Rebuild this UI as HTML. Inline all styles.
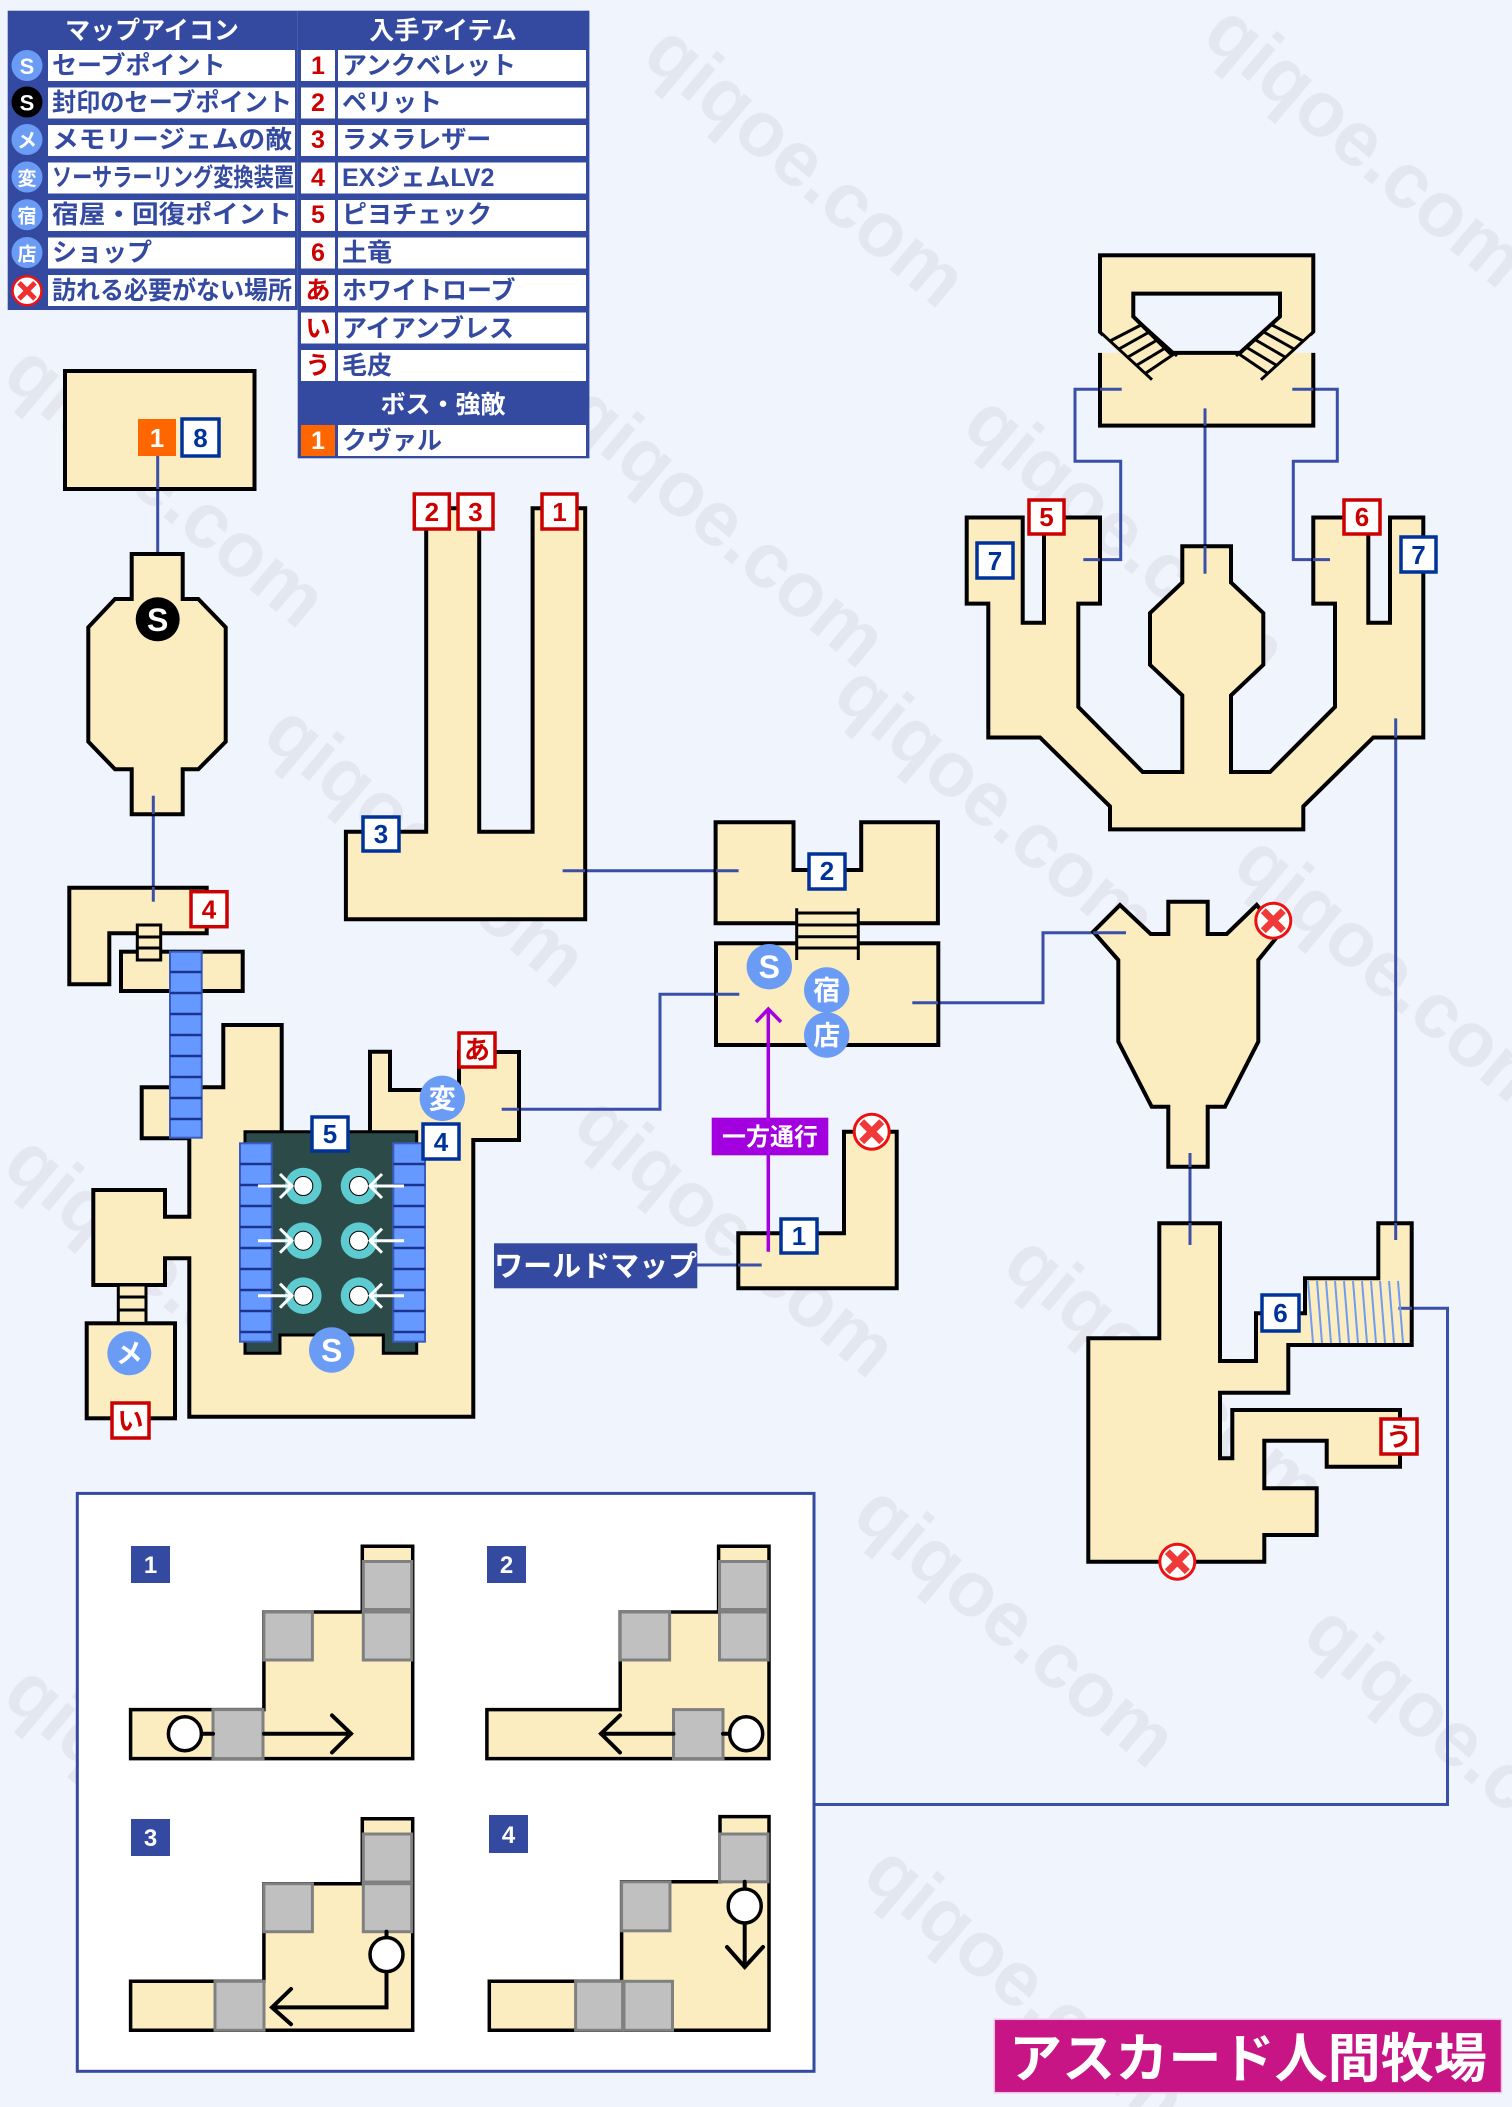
<!DOCTYPE html>
<html><head><meta charset="utf-8"><style>
html,body{margin:0;padding:0;background:#eff4fd;}
svg{display:block;}
text{font-family:"Liberation Sans","Noto Sans CJK JP",sans-serif;font-weight:bold;}
</style></head><body>
<svg width="1512" height="2107" viewBox="0 0 1512 2107" xmlns="http://www.w3.org/2000/svg">
<rect width="1512" height="2107" fill="#eff4fd"/>
<!-- watermarks -->
<g fill="#e3e5ef" font-size="78" opacity="0.9">
<text transform="translate(640,60) rotate(40)">qiqoe.com</text>
<text transform="translate(1200,40) rotate(40)">qiqoe.com</text>
<text transform="translate(0,380) rotate(40)">qiqoe.com</text>
<text transform="translate(560,420) rotate(40)">qiqoe.com</text>
<text transform="translate(960,430) rotate(40)">qiqoe.com</text>
<text transform="translate(260,740) rotate(40)">qiqoe.com</text>
<text transform="translate(830,700) rotate(40)">qiqoe.com</text>
<text transform="translate(1230,870) rotate(40)">qiqoe.com</text>
<text transform="translate(0,1170) rotate(40)">qiqoe.com</text>
<text transform="translate(570,1130) rotate(40)">qiqoe.com</text>
<text transform="translate(1000,1270) rotate(40)">qiqoe.com</text>
<text transform="translate(850,1520) rotate(40)">qiqoe.com</text>
<text transform="translate(1300,1640) rotate(40)">qiqoe.com</text>
<text transform="translate(0,1700) rotate(40)">qiqoe.com</text>
<text transform="translate(860,1880) rotate(40)">qiqoe.com</text>
</g>

<!-- LEGEND -->
<g>
<rect x="7.7" y="10.7" width="290" height="299.3" fill="#334aa0"/>
<rect x="297.7" y="10.7" width="291.7" height="447.6" fill="#334aa0"/>
<text x="152" y="39" font-size="25" fill="#fff" text-anchor="middle">マップアイコン</text>
<text x="443" y="39" font-size="25" fill="#fff" text-anchor="middle">入手アイテム</text>
<text x="443" y="413" font-size="25" fill="#fff" text-anchor="middle">ボス・強敵</text>
<g fill="#fff">
<rect x="48" y="50" width="247" height="31"/><rect x="48" y="87.5" width="247" height="31"/><rect x="48" y="125" width="247" height="31"/><rect x="48" y="162.5" width="247" height="31"/><rect x="48" y="200" width="247" height="31"/><rect x="48" y="237.5" width="247" height="31"/><rect x="48" y="275" width="247" height="31"/>
<rect x="301" y="50" width="34" height="31"/><rect x="301" y="87.5" width="34" height="31"/><rect x="301" y="125" width="34" height="31"/><rect x="301" y="162.5" width="34" height="31"/><rect x="301" y="200" width="34" height="31"/><rect x="301" y="237.5" width="34" height="31"/><rect x="301" y="275" width="34" height="31"/><rect x="301" y="312.5" width="34" height="31"/><rect x="301" y="350" width="34" height="31"/>
<rect x="338" y="50" width="248" height="31"/><rect x="338" y="87.5" width="248" height="31"/><rect x="338" y="125" width="248" height="31"/><rect x="338" y="162.5" width="248" height="31"/><rect x="338" y="200" width="248" height="31"/><rect x="338" y="237.5" width="248" height="31"/><rect x="338" y="275" width="248" height="31"/><rect x="338" y="312.5" width="248" height="31"/><rect x="338" y="350" width="248" height="31"/>
<rect x="338" y="425" width="248" height="31"/>
</g>
<rect x="301" y="425" width="34" height="31" fill="#ff6600"/>
<!-- icons -->
<circle cx="27" cy="65.5" r="15.5" fill="#6b9cf5"/><text x="27" y="74" font-size="22" fill="#fff" text-anchor="middle">S</text>
<circle cx="27" cy="102" r="15.5" fill="#000"/><text x="27" y="110.5" font-size="22" fill="#fff" text-anchor="middle">S</text>
<circle cx="27" cy="139.5" r="15.5" fill="#6b9cf5"/><text x="27" y="147.5" font-size="20" fill="#fff" text-anchor="middle">メ</text>
<circle cx="27" cy="177" r="15.5" fill="#6b9cf5"/><text x="27" y="185" font-size="19" fill="#fff" text-anchor="middle">変</text>
<circle cx="27" cy="214.7" r="15.5" fill="#6b9cf5"/><text x="27" y="222.5" font-size="19" fill="#fff" text-anchor="middle">宿</text>
<circle cx="27" cy="252.5" r="15.5" fill="#6b9cf5"/><text x="27" y="260.5" font-size="19" fill="#fff" text-anchor="middle">店</text>
<circle cx="27" cy="290.8" r="14.5" fill="#fff" stroke="#ee1111" stroke-width="2.5"/><path d="M19 282.8 L35 298.8 M35 282.8 L19 298.8" stroke="#f03030" stroke-width="5"/>
<g font-size="25" fill="#334aa0">
<text x="52" y="74">セーブポイント</text>
<text x="52" y="111" textLength="240" lengthAdjust="spacingAndGlyphs">封印のセーブポイント</text>
<text x="52" y="148" textLength="240" lengthAdjust="spacingAndGlyphs">メモリージェムの敵</text>
<text x="52" y="186" textLength="242" lengthAdjust="spacingAndGlyphs">ソーサラーリング変換装置</text>
<text x="52" y="223" textLength="240" lengthAdjust="spacingAndGlyphs">宿屋・回復ポイント</text>
<text x="52" y="261">ショップ</text>
<text x="52" y="299" textLength="240" lengthAdjust="spacingAndGlyphs">訪れる必要がない場所</text>
<text x="342" y="74">アンクベレット</text>
<text x="342" y="111">ペリット</text>
<text x="342" y="148">ラメラレザー</text>
<text x="342" y="186">EXジェムLV2</text>
<text x="342" y="223">ピヨチェック</text>
<text x="342" y="261">土竜</text>
<text x="342" y="299">ホワイトローブ</text>
<text x="342" y="337">アイアンブレス</text>
<text x="342" y="374">毛皮</text>
<text x="342" y="449">クヴァル</text>
</g>
<g font-size="25" fill="#cc0000" text-anchor="middle">
<text x="318" y="74">1</text><text x="318" y="111">2</text><text x="318" y="148">3</text><text x="318" y="186">4</text><text x="318" y="223">5</text><text x="318" y="261">6</text><text x="318" y="299">あ</text><text x="318" y="337">い</text><text x="318" y="374">う</text>
</g>
<text x="318" y="449" font-size="25" fill="#fff" text-anchor="middle">1</text>
</g>

<!-- CONNECTOR LINES -->
<g stroke="#3a4fa8" stroke-width="3" fill="none">
<path d="M157.7 489 V573"/>
<path d="M153.3 795.7 V901.7"/>
<path d="M562.6 870.7 H738.6"/>
<path d="M739.3 994.3 H660 V1109.3 H501.7"/>
<path d="M912.3 1002.7 H1043 V932.7 H1126"/>
<path d="M697 1265 H761.7"/>
<path d="M1190 1153 V1245"/>
<path d="M1121.7 389.3 H1075 V461.2 H1120.7 V559.6 H1083.3"/>
<path d="M1292.3 389.3 H1337.3 V461.2 H1293.3 V559.6 H1330"/>
<path d="M1205 408.4 V573.7"/>
<path d="M1395.7 718.4 V1240"/>
<path d="M1398.3 1308.3 H1447.5 V1804.5 H814"/>
</g>

<g fill="#fcedc0" stroke="#000" stroke-width="4" stroke-linejoin="miter">
<!-- room 1 -->
<rect x="65" y="371" width="189.5" height="118"/>
<!-- octagon -->
<polygon points="131.7,554 182.7,554 182.7,599 198.3,599 225.7,627.3 225.7,741.7 198.3,769.3 182.7,769.3 182.7,814.3 131.7,814.3 131.7,769.3 115,769.3 88.3,741.7 88.3,627.3 115,599 131.7,599"/>
<!-- room 4 -->
<polygon points="69.3,887.7 206.7,887.7 206.7,933.3 109.3,933.3 109.3,984.3 69.3,984.3"/>
<rect x="121" y="951.7" width="121.7" height="39.3"/>
<!-- big left complex -->
<polygon points="223.3,1025 281.7,1025 281.7,1138.3 370,1138.3 370,1051.7 390,1051.7 390,1090 459,1090 459,1052 519,1052 519,1140 473.3,1140 473.3,1416.7 189.3,1416.7 189.3,1258.3 165,1258.3 165,1285 93.3,1285 93.3,1190 165,1190 165,1216.7 189.3,1216.7 189.3,1138.3 141.7,1138.3 141.7,1087.3 223.3,1087.3"/>
<rect x="86.7" y="1323.3" width="88.3" height="95"/>
<!-- U room -->
<polygon points="426.2,508.3 479.2,508.3 479.2,831.7 532.6,831.7 532.6,508.3 585.2,508.3 585.2,919.3 345.9,919.3 345.9,831.7 426.2,831.7"/>
<!-- center rooms -->
<polygon points="715.6,822.3 793.5,822.3 793.5,870 861.2,870 861.2,822.3 937.9,822.3 937.9,923.3 715.6,923.3"/>
<rect x="716" y="943.3" width="222.3" height="101.7"/>
<polygon points="738.3,1233.3 844,1233.3 844,1131.7 896.7,1131.7 896.7,1288.3 738.3,1288.3"/>
<!-- funnel -->
<polygon points="1093.3,931.7 1120,905 1150.7,934 1168.3,934 1168.3,901.7 1207.7,901.7 1207.7,934 1226.7,934 1256.7,905 1280,933.3 1258.3,960 1258.3,1041.7 1225,1106.7 1207.7,1106.7 1207.7,1166.7 1168.3,1166.7 1168.3,1106.7 1151.7,1106.7 1118.3,1041.7 1118.3,960"/>
<!-- bottom right complex -->
<polygon points="1088.3,1338.3 1159.3,1338.3 1159.3,1223.3 1220,1223.3 1220,1361 1256,1361 1256,1313.3 1305,1313.3 1305,1278.3 1378.3,1278.3 1378.3,1223.3 1411.7,1223.3 1411.7,1345 1288.3,1345 1288.3,1392.7 1220,1392.7 1220,1458.3 1232.3,1458.3 1232.3,1410 1400,1410 1400,1466.7 1326.7,1466.7 1326.7,1440.7 1264.3,1440.7 1264.3,1488.3 1316.7,1488.3 1316.7,1535 1264.3,1535 1264.3,1561.7 1088.3,1561.7"/>
<!-- top right building -->
<polygon points="966.7,517.5 1022.7,517.5 1022.7,622.7 1044,622.7 1044,517.5 1100,517.5 1100,603.6 1078.3,603.6 1078.3,706.9 1142.7,772 1182.3,772 1182.3,695.4 1150,664.8 1150,613.1 1182.3,582.5 1182.3,546.2 1231,546.2 1231,582.5 1263.3,613.1 1263.3,664.8 1231,695.4 1231,772 1270,772 1335,706.9 1335,603.6 1313.3,603.6 1313.3,517.5 1368.3,517.5 1368.3,622.7 1390,622.7 1390,517.5 1423.3,517.5 1423.3,737.5 1373.3,737.5 1303.3,806.4 1303.3,829.4 1110,829.4 1110,806.4 1040,737.5 988.3,737.5 988.3,603.6 966.7,603.6"/>
<rect x="1100" y="255.3" width="213.3" height="170.3"/>
</g>
<!-- top room hole and stairs -->
<polygon points="1133.3,293.6 1280,293.6 1280,316.5 1240,352.9 1170,352.9 1133.3,316.5" fill="#eff4fd" stroke="#000" stroke-width="4"/>
<polygon points="1097,331.8 1097,352.9 1119,352.9" fill="#eff4fd"/>
<polygon points="1316,331.8 1316,352.9 1294,352.9" fill="#eff4fd"/>
<g stroke="#000" stroke-width="3">
<path d="M1100 331.8 L1152 379.7 M1133.3 316.5 L1177 356"/>
<path d="M1313.3 331.8 L1261 379.7 M1280 316.5 L1236 356"/>
<path d="M1110 341 L1143 324 M1119 349 L1151 331 M1128 357 L1159 339 M1137 365 L1167 347 M1146 373 L1174 354"/>
<path d="M1303 341 L1270 324 M1294 349 L1262 331 M1285 357 L1254 339 M1276 365 L1246 347 M1267 373 L1239 354"/>
</g>
<!-- internal line stubs redraw over rooms -->
<g stroke="#3a4fa8" stroke-width="3" fill="none">
<path d="M157.7 440 V489"/><path d="M153.3 795.7 V814"/><path d="M153.3 887 V901.7"/>
<path d="M562.6 870.7 H585"/><path d="M716 870.7 H738.6"/><path d="M716 994.3 H739.3"/><path d="M501.7 1109.3 H519"/>
<path d="M912.3 1002.7 H938"/><path d="M1093.3 932.7 H1126"/><path d="M738 1265 H761.7"/>
<path d="M1190 1153 V1167 M1190 1223 V1245"/><path d="M1395.7 1223 V1240"/><path d="M1398.3 1308.3 H1412"/>
<path d="M1121.7 389.3 H1100 M1292.3 389.3 H1313.3 M1205 408.4 V425.6 M1205 546 V573.7 M1083.3 559.6 H1100 M1313 559.6 H1330 M1395.7 718.4 V737.5"/>
</g>
<!-- hatch in bottom right -->
<g stroke="#6f9cf0" stroke-width="2">
<path d="M1308 1281 L1313 1343 M1317 1281 L1322 1343 M1326 1281 L1331 1343 M1335 1281 L1340 1343 M1344 1281 L1349 1343 M1353 1281 L1358 1343 M1362 1281 L1367 1343 M1371 1281 L1376 1343 M1380 1281 L1385 1343 M1389 1281 L1394 1343 M1398 1281 L1403 1343"/>
</g>
<!-- ladders -->
<g stroke="#000" stroke-width="3" fill="#fcedc0">
<rect x="137.3" y="925" width="23.4" height="35"/>
<path d="M137.3 937 H160.7 M137.3 948 H160.7" fill="none"/>
<rect x="118.3" y="1285" width="27.7" height="38.3"/>
<path d="M118.3 1297 H146 M118.3 1310 H146" fill="none"/>
<rect x="796.7" y="910" width="61.6" height="48" stroke-width="0"/>
<path d="M796.7 908.3 V960 M858.3 908.3 V960 M796.7 913 H858.3 M796.7 925 H858.3 M796.7 936.7 H858.3 M796.7 948 H858.3" fill="none"/>
</g>
<!-- blue upper stairs -->
<rect x="170" y="951.7" width="31.7" height="186" fill="#6699ff" stroke="#3a5cc0" stroke-width="2"/>
<g stroke="#1a3490" stroke-width="2.5"><path d="M170 972 H201.7 M170 993 H201.7 M170 1014 H201.7 M170 1035 H201.7 M170 1056 H201.7 M170 1077 H201.7 M170 1098 H201.7 M170 1119 H201.7"/></g>
<!-- dark region -->
<polygon points="245,1131.7 416.7,1131.7 416.7,1353.3 383.3,1353.3 383.3,1335 280,1335 280,1353.3 245,1353.3" fill="#2b4a48" stroke="#000" stroke-width="3"/>
<rect x="240" y="1143.3" width="31.7" height="198.4" fill="#6699ff" stroke="#3a5cc0" stroke-width="2"/>
<rect x="393.3" y="1143.3" width="31.7" height="198.4" fill="#6699ff" stroke="#3a5cc0" stroke-width="2"/>
<g stroke="#1a3490" stroke-width="2.5"><path d="M240 1164 H271.7 M240 1185 H271.7 M240 1206 H271.7 M240 1227 H271.7 M240 1248 H271.7 M240 1269 H271.7 M240 1290 H271.7 M240 1311 H271.7 M240 1332 H271.7 M393.3 1164 H425 M393.3 1185 H425 M393.3 1206 H425 M393.3 1227 H425 M393.3 1248 H425 M393.3 1269 H425 M393.3 1290 H425 M393.3 1311 H425 M393.3 1332 H425"/></g>
<g fill="#5ecbd0"><circle cx="303.3" cy="1186" r="18.3"/><circle cx="359" cy="1186" r="18.3"/><circle cx="303.3" cy="1240.7" r="18.3"/><circle cx="359" cy="1240.7" r="18.3"/><circle cx="303.3" cy="1295.7" r="18.3"/><circle cx="359" cy="1295.7" r="18.3"/></g>
<g fill="#fff" stroke="#000" stroke-width="1"><circle cx="303.3" cy="1186" r="9.5"/><circle cx="359" cy="1186" r="9.5"/><circle cx="303.3" cy="1240.7" r="9.5"/><circle cx="359" cy="1240.7" r="9.5"/><circle cx="303.3" cy="1295.7" r="9.5"/><circle cx="359" cy="1295.7" r="9.5"/></g>
<g stroke="#fff" stroke-width="3" fill="none">
<path d="M258 1186 H292 M280 1174 L292 1186 L280 1198"/><path d="M258 1240.7 H292 M280 1228.7 L292 1240.7 L280 1252.7"/><path d="M258 1295.7 H292 M280 1283.7 L292 1295.7 L280 1307.7"/>
<path d="M404 1186 H370 M382 1174 L370 1186 L382 1198"/><path d="M404 1240.7 H370 M382 1228.7 L370 1240.7 L382 1252.7"/><path d="M404 1295.7 H370 M382 1283.7 L370 1295.7 L382 1307.7"/>
</g>
<!-- one-way arrow -->
<g stroke="#a300e0" stroke-width="3.5" fill="none"><path d="M768.3 1251.7 V1010 M756 1022 L768.3 1009 L781 1022"/></g>
<rect x="711.7" y="1117.7" width="116.6" height="37.6" fill="#a300e0"/>
<text x="770" y="1145" font-size="24" fill="#fff" text-anchor="middle">一方通行</text>
<rect x="494" y="1243.3" width="203.3" height="45" fill="#334aa0"/>
<text x="595.6" y="1276" font-size="29" fill="#fff" text-anchor="middle">ワールドマップ</text>

<!-- ICON CIRCLES -->
<g fill="#6b9cf5">
<circle cx="769.3" cy="966.7" r="22.7"/><circle cx="826.7" cy="990" r="22.7"/><circle cx="826.7" cy="1035" r="22.7"/>
<circle cx="442.3" cy="1098.3" r="22.7"/><circle cx="331.7" cy="1350" r="22.7"/><circle cx="129.3" cy="1353.3" r="22"/>
</g>
<circle cx="157.7" cy="619.3" r="22" fill="#000"/>
<g fill="#fff" text-anchor="middle">
<text x="769.3" y="978" font-size="32">S</text><text x="331.7" y="1361.5" font-size="32">S</text><text x="157.7" y="631" font-size="32">S</text>
<text x="826.7" y="1000" font-size="27">宿</text><text x="826.7" y="1045" font-size="27">店</text><text x="442.3" y="1108.5" font-size="27">変</text><text x="129.3" y="1363" font-size="27">メ</text>
</g>
<!-- X icons -->
<g>
<circle cx="871.7" cy="1131.7" r="17.5" fill="#fff" stroke="#ee1111" stroke-width="3"/><path d="M861.7 1121.7 L881.7 1141.7 M881.7 1121.7 L861.7 1141.7" stroke="#f03a3a" stroke-width="7"/>
<circle cx="1273.3" cy="920.7" r="17.5" fill="#fff" stroke="#ee1111" stroke-width="3"/><path d="M1263.3 910.7 L1283.3 930.7 M1283.3 910.7 L1263.3 930.7" stroke="#f03a3a" stroke-width="7"/>
<circle cx="1177.3" cy="1561.7" r="17.5" fill="#fff" stroke="#ee1111" stroke-width="3"/><path d="M1167.3 1551.7 L1187.3 1571.7 M1187.3 1551.7 L1167.3 1571.7" stroke="#f03a3a" stroke-width="7"/>
</g>

<!-- BADGES -->
<g stroke-width="3.5" fill="#fff">
<g stroke="#cc0000">
<rect x="414.3" y="494" width="35" height="35"/><rect x="458" y="494" width="35" height="35"/><rect x="542" y="494" width="35" height="35"/>
<rect x="191" y="891.7" width="36" height="35"/><rect x="459" y="1033" width="36" height="34"/><rect x="112" y="1403" width="37" height="35"/>
<rect x="1029" y="500" width="35" height="34"/><rect x="1344" y="500" width="36" height="34"/><rect x="1381" y="1419" width="36" height="35"/>
</g>
<g stroke="#003399">
<rect x="182" y="419" width="37" height="37"/>
<rect x="363" y="817" width="36" height="34"/><rect x="809" y="854" width="36" height="35"/>
<rect x="312" y="1117" width="36" height="34"/><rect x="423" y="1124" width="36" height="35"/>
<rect x="781" y="1219" width="36" height="34"/><rect x="977" y="543" width="36" height="35"/><rect x="1401" y="537" width="35" height="35"/>
<rect x="1262" y="1295" width="37" height="36"/>
</g>
</g>
<rect x="138" y="419" width="38" height="37" fill="#ff6600"/>
<g font-size="26" text-anchor="middle" fill="#cc0000">
<text x="431.8" y="521">2</text><text x="475.5" y="521">3</text><text x="559.5" y="521">1</text>
<text x="209" y="918.5">4</text><text x="477" y="1059">あ</text><text x="130.5" y="1430">い</text>
<text x="1046.5" y="526">5</text><text x="1362" y="526">6</text><text x="1399" y="1446">う</text>
</g>
<g font-size="26" text-anchor="middle" fill="#003399">
<text x="200.5" y="447">8</text><text x="381" y="843">3</text><text x="827" y="880">2</text>
<text x="330" y="1143">5</text><text x="441" y="1151">4</text><text x="799" y="1245">1</text>
<text x="995" y="570">7</text><text x="1418.5" y="564">7</text><text x="1280.5" y="1322">6</text>
</g>
<text x="157" y="447" font-size="26" text-anchor="middle" fill="#fff">1</text>

<!-- BOTTOM PANEL -->
<rect x="77.3" y="1493.4" width="736.7" height="577.9" fill="#fff" stroke="#334aa0" stroke-width="3"/>
<g fill="#334aa0"><rect x="131" y="1546" width="39" height="37"/><rect x="487" y="1546" width="39" height="37"/><rect x="131" y="1819" width="39" height="37"/><rect x="489" y="1815" width="39" height="38"/></g>
<g font-size="24" fill="#fff" text-anchor="middle"><text x="150.5" y="1573">1</text><text x="506.5" y="1573">2</text><text x="150.5" y="1846">3</text><text x="508.5" y="1843">4</text></g>
<g fill="#fcedc0" stroke="#000" stroke-width="3.5">
<polygon points="362.3,1546.2 412.7,1546.2 412.7,1758.6 130.6,1758.6 130.6,1709.6 263.9,1709.6 263.9,1612 362.3,1612"/>
<polygon points="718.6,1546.2 769,1546.2 769,1758.6 486.9,1758.6 486.9,1709.6 620.2,1709.6 620.2,1612 718.6,1612"/>
<polygon points="362.3,1818.7 412.7,1818.7 412.7,2030.3 130.6,2030.3 130.6,1981.3 263.9,1981.3 263.9,1883.7 362.3,1883.7"/>
<polygon points="720,1816.6 769,1816.6 769,2030.3 489.3,2030.3 489.3,1981.3 621.6,1981.3 621.6,1881.8 720,1881.8"/>
</g>
<g fill="#c0c0c0" stroke="#808080" stroke-width="3">
<rect x="263.9" y="1612" width="48.5" height="48"/><rect x="363.3" y="1561.5" width="48.4" height="48"/><rect x="363.3" y="1612" width="48.4" height="48"/><rect x="213" y="1709.6" width="50" height="49"/>
<rect x="620.2" y="1612" width="49.4" height="48"/><rect x="719.5" y="1561.5" width="48.5" height="48"/><rect x="719.5" y="1612" width="48.5" height="48"/><rect x="673.5" y="1709.6" width="49.5" height="49"/>
<rect x="263.9" y="1883.7" width="48.5" height="48"/><rect x="363.3" y="1834" width="48.4" height="48"/><rect x="363.3" y="1883.7" width="48.4" height="48"/><rect x="215" y="1981.3" width="49" height="49"/>
<rect x="621.6" y="1881.8" width="48.4" height="49"/><rect x="719.5" y="1834" width="48.5" height="47.8"/><rect x="575.6" y="1981.3" width="47" height="49"/><rect x="624" y="1981.3" width="48.5" height="49"/>
</g>
<g stroke="#000" stroke-width="4" fill="none" stroke-linecap="round">
<path d="M202 1733.7 H213 M264 1733.7 H351 M332 1715.4 L351 1733.7 L332 1752.5"/>
<path d="M729 1733.7 H723 M673.5 1733.7 H601 M620 1715.4 L601 1733.7 L620 1752.5"/>
<path d="M386.5 1931.6 V1937 M386.5 1971 V2007.4 H272 M291 1989 L272 2007.4 L291 2024.2"/>
<path d="M744.7 1881.8 V1889 M744.7 1923 V1967 M727 1947 L744.7 1967 L763 1947"/>
</g>
<g fill="#fff" stroke="#000" stroke-width="3.5">
<ellipse cx="184.9" cy="1733.7" rx="16.5" ry="17"/><ellipse cx="746.2" cy="1733.7" rx="16.5" ry="17"/>
<ellipse cx="386.5" cy="1954.6" rx="16.5" ry="17"/><ellipse cx="744.7" cy="1906" rx="16.5" ry="17"/>
</g>

<!-- TITLE -->
<rect x="994.3" y="2019.3" width="507.2" height="73.4" fill="#c71585" stroke="#f0c0e0" stroke-width="1.5"/>
<text x="1248" y="2077" font-size="53" fill="#fff" text-anchor="middle" textLength="478" lengthAdjust="spacingAndGlyphs">アスカード人間牧場</text>
</svg>
</body></html>
